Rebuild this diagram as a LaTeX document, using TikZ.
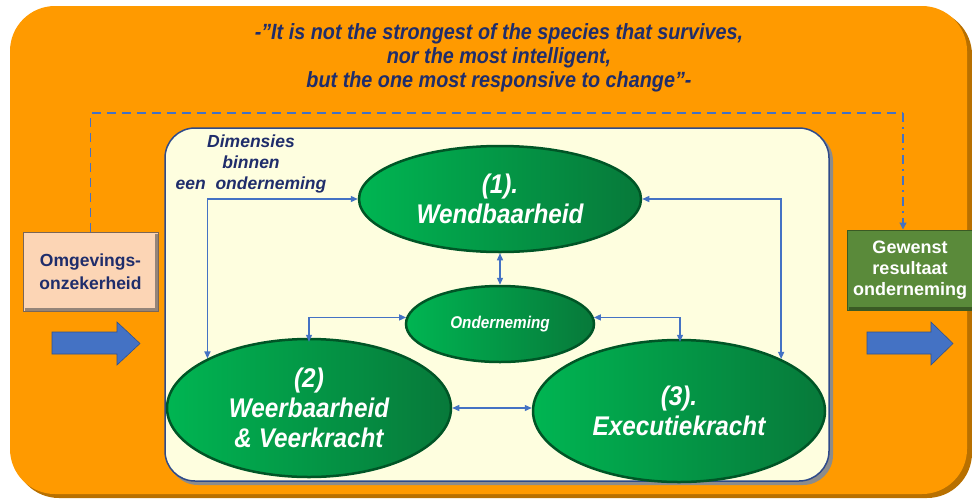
\documentclass[tikz,border=0pt]{standalone}
\usepackage{fontspec}
\setmainfont{Liberation Sans}
\newfontfamily\narrowfont{Liberation Sans}[FakeStretch=0.9]
\usetikzlibrary{shapes.geometric,arrows.meta,calc}
\definecolor{orangeA}{HTML}{FF9A00}
\definecolor{orangeS}{HTML}{B87000}
\definecolor{creamA}{HTML}{FEFEDF}
\definecolor{navyA}{HTML}{1F2D6B}
\definecolor{boxborder}{HTML}{2E4A8A}
\definecolor{connA}{HTML}{4472C4}
\definecolor{greenL}{HTML}{00B552}
\definecolor{greenR}{HTML}{07793A}
\definecolor{greenB}{HTML}{005526}
\definecolor{peachA}{HTML}{FCD5B5}
\definecolor{peachB}{HTML}{7A6657}
\definecolor{gewA}{HTML}{5A8A3A}
\definecolor{gewB}{HTML}{3A5A24}
\definecolor{arrA}{HTML}{4472C4}
\definecolor{arrB}{HTML}{2F528F}
\tikzset{
  gell/.style={ellipse, draw=greenB, line width=2.5pt, left color=greenL, right color=greenR,
    text=white, align=center, inner sep=0pt},
  conn/.style={draw=connA, line width=1.3pt, {Triangle[length=7pt,width=6pt]}-{Triangle[length=7pt,width=6pt]}},
  dashconn/.style={draw=connA, line width=1.3pt, dash pattern=on 9pt off 6pt},
  dashdotconn/.style={draw=connA, line width=1.3pt, dash pattern=on 9pt off 5pt on 2pt off 5pt, -{Triangle[length=7pt,width=7pt]}},
  blockarrow/.style={fill=arrA, draw=arrB, line width=0.6pt},
  bevel/.style={line width=3pt, draw=#1},
}
\begin{document}
\begin{tikzpicture}[x=1pt,y=-1pt]
\useasboundingbox (0,0) rectangle (972,499);
% outer orange panel
\fill[orangeS, rounded corners=45pt] (14,10) rectangle (972,498);
\fill[orangeA, rounded corners=45pt] (10,6) rectangle (967,494);
% quote
\node[font=\narrowfont\bfseries\itshape\fontsize{22}{24}\selectfont, text=navyA, align=center] (quote) at (499,58)
  {-”It is not the strongest of the species that survives,\\nor the most intelligent,\\but the one most responsive to change”-};
% inner cream box
\fill[black!45, rounded corners=30pt] (168,131) rectangle (833,485);
\draw[boxborder, line width=1.5pt, fill=creamA, rounded corners=30pt] (165,128) rectangle (829,481);
\node[font=\bfseries\itshape\fontsize{17.5}{21}\selectfont, text=navyA, align=center] (dim) at (251,164)
  {Dimensies\\binnen\\een\ \ onderneming};
% ellipses
\node[gell, minimum width=282pt, minimum height=106pt, font=\narrowfont\bfseries\itshape\fontsize{27}{30}\selectfont] (wend) at (500,199) {(1).\\Wendbaarheid};
\node[gell, minimum width=188pt, minimum height=76pt, font=\narrowfont\bfseries\itshape\fontsize{17}{18}\selectfont] (ond) at (500,324) {Onderneming};
\node[gell, minimum width=284pt, minimum height=138pt, font=\narrowfont\bfseries\itshape\fontsize{27}{30}\selectfont] (weer) at (309,408) {(2)\\Weerbaarheid\\\&\ Veerkracht};
\node[gell, minimum width=292pt, minimum height=142pt, font=\narrowfont\bfseries\itshape\fontsize{27}{30}\selectfont] (exec) at (679,411) {(3).\\Executiekracht};
% connectors
\draw[conn] (wend.west) -| (weer.154);
\draw[conn] (wend.east) -| (exec.27);
\draw[conn] (wend.south) -- (ond.north);
\draw[conn] (ond.176) -| ($(weer.north)+(0,4)$);
\draw[conn] (ond.4) -| ($(exec.north)+(1,3)$);
\draw[conn] (weer.east) -- (weer.east -| exec.west);
% side boxes
\node[fill=peachA, draw=peachB, line width=1pt, minimum width=135pt, minimum height=79pt, align=center,
  font=\bfseries\fontsize{17.5}{23}\selectfont, text=navyA] (omg) at (90.5,271.5) {Omgevings-\\onzekerheid};
\draw[bevel=peachB!80] ($(omg.south west)+(2,-2)$) -- ($(omg.south east)+(-2,-2)$) -- ($(omg.north east)+(-2,2)$);
\node[fill=gewA, draw=gewB, line width=1pt, minimum width=126pt, minimum height=80pt, align=center,
  font=\bfseries\fontsize{18}{21}\selectfont, text=white] (gew) at (910,270) {Gewenst\\resultaat\\onderneming};
\draw[bevel=gewB] ($(gew.south west)+(2,-2)$) -- ($(gew.south east)+(-2,-2)$);
% dashed feedback
\coordinate (tl) at (omg.north |- 0,113);
\coordinate (tr) at ($(gew.north |- 0,113)+(-7,0)$);
\coordinate (tb) at ($(gew.north)+(-7,0)$);
\draw[dashconn] (omg.north) -- (tl) -- (tr);
\draw[dashdotconn] (tr) -- (tb);
% block arrows
\draw[blockarrow] (52,332) -- (117,332) -- (117,322) -- (140,343.5) -- (117,365) -- (117,354) -- (52,354) -- cycle;
\draw[blockarrow] (867,332) -- (931,332) -- (931,322) -- (953,343.5) -- (931,365) -- (931,354) -- (867,354) -- cycle;
\end{tikzpicture}
\end{document}
